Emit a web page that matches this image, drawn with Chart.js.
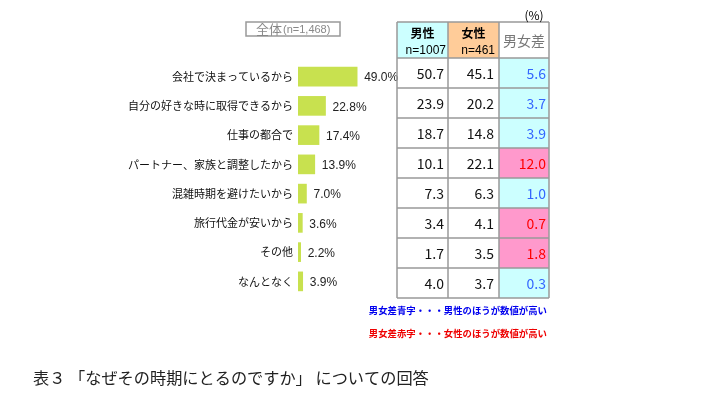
<!DOCTYPE html>
<html>
<head>
<meta charset="utf-8">
<script src="https://cdn.jsdelivr.net/npm/chart.js@4.4.1/dist/chart.umd.min.js"></script>
<style>
  html, body { margin: 0; padding: 0; background: #ffffff; }
  #wrap { width: 710px; height: 395px; position: relative; }
</style>
</head>
<body>
<div id="wrap"><canvas id="c" width="710" height="395"></canvas></div>
<script>
const categories = [
  '会社で決まっているから',
  '自分の好きな時に取得できるから',
  '仕事の都合で',
  'パートナー、家族と調整したから',
  '混雑時期を避けたいから',
  '旅行代金が安いから',
  'その他',
  'なんとなく'
];
const totalPct  = [49.0, 22.8, 17.4, 13.9, 7.0, 3.6, 2.2, 3.9];
const malePct   = [50.7, 23.9, 18.7, 10.1, 7.3, 3.4, 1.7, 4.0];
const femalePct = [45.1, 20.2, 14.8, 22.1, 6.3, 4.1, 3.5, 3.7];
const genderGap = [5.6, 3.7, 3.9, 12.0, 1.0, 0.7, 1.8, 0.3];
const gapHigher = ['male', 'male', 'male', 'female', 'male', 'female', 'female', 'male'];

const totalLabel = '全体';
const totalN = '(n=1,468)';
const maleHeader = ['男性', 'n=1007'];
const femaleHeader = ['女性', 'n=461'];
const gapHeader = '男女差';
const unitLabel = '(%)';
const noteBlue = '男女差青字・・・男性のほうが数値が高い';
const noteRed = '男女差赤字・・・女性のほうが数値が高い';
const caption = '表３ 「なぜその時期にとるのですか」 についての回答';

const JP = '"Noto Sans CJK JP", "Noto Sans", sans-serif';
const LAT = '"Liberation Sans", Arial, sans-serif';

const valueLabelPlugin = {
  id: 'valueLabels',
  afterDatasetsDraw(chart) {
    const ctx = chart.ctx;
    const meta = chart.getDatasetMeta(0);
    ctx.save();
    ctx.font = '12px ' + LAT;
    ctx.fillStyle = '#222';
    ctx.textAlign = 'left';
    ctx.textBaseline = 'middle';
    meta.data.forEach((bar, i) => {
      ctx.fillText(totalPct[i].toFixed(1) + '%', bar.x + 7, bar.y + 1.5);
    });
    ctx.restore();
  }
};

const tablePlugin = {
  id: 'sideTable',
  afterDraw(chart) {
    const ctx = chart.ctx;
    const cols = [397, 448, 499, 549];
    const headTop = 22;
    const headBottom = 58;
    const pitch = 30;
    const rowTop = i => headBottom + pitch * i;
    const bottom = rowTop(categories.length);
    ctx.save();

    // header backgrounds
    ctx.fillStyle = '#ccffff';
    ctx.fillRect(cols[0], headTop, cols[1] - cols[0], headBottom - headTop);
    ctx.fillStyle = '#ffcc99';
    ctx.fillRect(cols[1], headTop, cols[2] - cols[1], headBottom - headTop);

    // diff cell backgrounds
    categories.forEach((c, i) => {
      ctx.fillStyle = gapHigher[i] === 'male' ? '#ccffff' : '#ff99cc';
      ctx.fillRect(cols[2], rowTop(i), cols[3] - cols[2], pitch);
    });

    // grid
    ctx.strokeStyle = '#999';
    ctx.lineWidth = 1.5;
    ctx.beginPath();
    cols.forEach(x => { ctx.moveTo(x, headTop); ctx.lineTo(x, bottom); });
    ctx.moveTo(cols[0], headTop); ctx.lineTo(cols[3], headTop);
    for (let i = 0; i <= categories.length; i++) {
      const yy = rowTop(i);
      ctx.moveTo(cols[0], yy); ctx.lineTo(cols[3], yy);
    }
    ctx.stroke();

    // header text
    ctx.fillStyle = '#000';
    ctx.textBaseline = 'middle';
    ctx.textAlign = 'center';
    ctx.font = 'bold 12px ' + JP;
    ctx.fillText(maleHeader[0], (cols[0] + cols[1]) / 2, 33);
    ctx.fillText(femaleHeader[0], (cols[1] + cols[2]) / 2, 33);
    ctx.font = '12px ' + LAT;
    ctx.textAlign = 'right';
    ctx.fillText(maleHeader[1], cols[1] - 2, 51);
    ctx.fillText(femaleHeader[1], cols[2] - 4, 51);
    ctx.textAlign = 'center';
    ctx.fillStyle = '#777';
    ctx.font = '14px ' + JP;
    ctx.fillText(gapHeader, (cols[2] + cols[3]) / 2, 41);
    ctx.fillStyle = '#000';
    ctx.font = '12px ' + JP;
    ctx.fillText(unitLabel, 534, 15);

    // values
    ctx.font = '14px ' + JP;
    ctx.textAlign = 'right';
    categories.forEach((c, i) => {
      const cy = rowTop(i) + pitch / 2 + 1;
      ctx.fillStyle = '#111';
      ctx.fillText(malePct[i].toFixed(1), cols[1] - 4, cy);
      ctx.fillText(femalePct[i].toFixed(1), cols[2] - 5, cy);
      ctx.fillStyle = gapHigher[i] === 'male' ? '#3366ff' : '#ff0000';
      ctx.fillText(genderGap[i].toFixed(1), cols[3] - 3, cy);
    });

    // total box
    ctx.strokeStyle = '#999';
    ctx.lineWidth = 1.5;
    ctx.strokeRect(246, 22, 94, 14);
    ctx.fillStyle = '#888';
    ctx.textAlign = 'left';
    ctx.font = '13px ' + JP;
    ctx.fillText(totalLabel, 256, 29);
    const w = ctx.measureText(totalLabel).width;
    ctx.font = '11px ' + LAT;
    ctx.fillText(totalN, 256 + w + 1, 29.5);

    // notes
    ctx.font = 'bold 9.4px ' + JP;
    ctx.textAlign = 'right';
    ctx.fillStyle = '#0000ee';
    ctx.fillText(noteBlue, 547, 310);
    ctx.fillStyle = '#ee0000';
    ctx.fillText(noteRed, 547, 333);

    // caption
    ctx.font = '16.2px ' + JP;
    ctx.textAlign = 'left';
    ctx.fillStyle = '#222';
    ctx.fillText(caption, 33, 378);
    ctx.restore();
  }
};

new Chart(document.getElementById('c'), {
  type: 'bar',
  data: {
    labels: categories,
    datasets: [{
      data: totalPct,
      backgroundColor: '#c8e14f',
      borderWidth: 0,
      barThickness: 19
    }]
  },
  options: {
    indexAxis: 'y',
    responsive: false,
    animation: false,
    devicePixelRatio: 1,
    layout: { padding: { left: 0, right: 313, top: 62, bottom: 99 } },
    plugins: { legend: { display: false }, tooltip: { enabled: false } },
    scales: {
      x: { display: false, min: 0, max: 82 },
      y: {
        grid: { display: false, drawTicks: false },
        border: { display: false },
        ticks: {
          autoSkip: false,
          padding: 5,
          color: '#111',
          font: { family: JP, size: 11 }
        },
        afterFit: s => { s.width = 298; }
      }
    }
  },
  plugins: [valueLabelPlugin, tablePlugin]
});
</script>
</body>
</html>
